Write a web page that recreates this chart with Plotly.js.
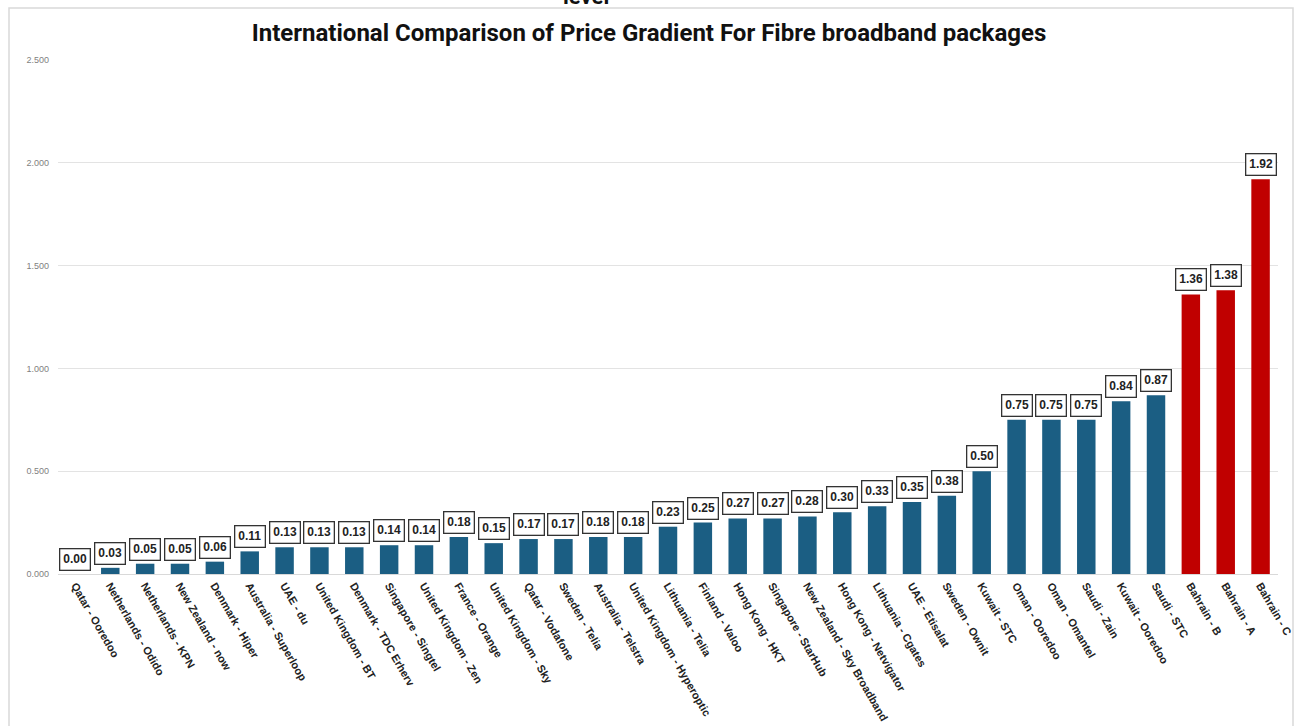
<!DOCTYPE html>
<html>
<head>
<meta charset="utf-8">
<script src="https://cdn.plot.ly/plotly-3.0.1.min.js"></script>
<style>
  html, body { margin: 0; padding: 0; background: #ffffff; }
  #chart { width: 1298px; height: 726px; }
</style>
</head>
<body>
<div id="chart"></div>
<script>
// Data
const categories = [
  "Qatar - Ooredoo", "Netherlands - Odido", "Netherlands - KPN", "New Zealand - now",
  "Denmark - Hiper", "Australia - Superloop", "UAE - du", "United Kingdom - BT",
  "Denmark - TDC Erherv", "Singapore - Singtel", "United Kingdom - Zen", "France - Orange",
  "United Kingdom - Sky", "Qatar - Vodafone", "Sweden - Telia", "Australia - Telstra",
  "United Kingdom - Hyperoptic", "Lithuania - Telia", "Finland - Valoo", "Hong Kong - HKT",
  "Singapore - StarHub", "New Zealand - Sky Broadband", "Hong Kong - Netvigator",
  "Lithuania - Cgates", "UAE - Etisalat", "Sweden - Ownit", "Kuwait - STC",
  "Oman - Ooredoo", "Oman - Omantel", "Saudi - Zain", "Kuwait - Ooredoo", "Saudi - STC",
  "Bahrain - B", "Bahrain - A", "Bahrain - C"
];
const values = [
  0.00, 0.03, 0.05, 0.05, 0.06, 0.11, 0.13, 0.13, 0.13, 0.14, 0.14, 0.18,
  0.15, 0.17, 0.17, 0.18, 0.18, 0.23, 0.25, 0.27, 0.27, 0.28, 0.30, 0.33,
  0.35, 0.38, 0.50, 0.75, 0.75, 0.75, 0.84, 0.87, 1.36, 1.38, 1.92
];
const highlighted = ["Bahrain - B", "Bahrain - A", "Bahrain - C"];
const yTickValues = [0, 0.5, 1.0, 1.5, 2.0, 2.5];

const blue = "#1b5e83";
const red = "#c00000";
const colors = categories.map(c => highlighted.includes(c) ? red : blue);

const trace = {
  type: "bar",
  x: categories,
  y: values,
  marker: { color: colors, line: { width: 0 } },
  hoverinfo: "x+y"
};

const labelAnnotations = categories.map((c, i) => ({
  x: c, y: values[i], xref: "x", yref: "y",
  text: values[i].toFixed(2),
  showarrow: false,
  yanchor: "bottom",
  yshift: 3,
  bgcolor: "#ffffff",
  bordercolor: "#333333",
  borderwidth: 1.3,
  borderpad: 3,
  font: { family: "Liberation Sans, Arial, sans-serif", size: 12, color: "#222222", weight: "bold" }
}));

const layout = {
  width: 1298, height: 726,
  margin: { l: 58, r: 20, t: 60, b: 152 },
  paper_bgcolor: "#ffffff",
  plot_bgcolor: "#ffffff",
  bargap: 0.47,
  showlegend: false,
  title: {
    text: "International Comparison of Price Gradient For Fibre broadband packages",
    x: 0.5, xanchor: "center",
    y: 1 - 33 / 726, yanchor: "middle",
    font: { family: "Roboto, Liberation Sans, sans-serif", size: 24, color: "#111111", weight: "bold" }
  },
  xaxis: {
    type: "category",
    tickangle: 60,
    tickfont: { family: "Liberation Sans, Arial, sans-serif", size: 11, color: "#222222", weight: "bold" },
    showgrid: false,
    showline: true,
    linecolor: "#d9d9d9",
    linewidth: 1,
    ticks: "",
    automargin: false
  },
  yaxis: {
    range: [0, 2.5],
    tickvals: yTickValues,
    tickformat: ".3f",
    tickfont: { family: "Liberation Sans, Arial, sans-serif", size: 9, color: "#7f7f7f" },
    showgrid: true,
    gridcolor: "#e3e3e3",
    gridwidth: 1,
    zeroline: false,
    showline: false,
    ticks: "",
    ticklabelstandoff: 8,
    automargin: false
  },
  shapes: [{
    type: "rect", xref: "paper", yref: "paper",
    x0: (9 - 58) / 1220, x1: (1293 - 58) / 1220,
    y0: (574 - 740) / 514, y1: (574 - 8) / 514,
    line: { color: "#d9d9d9", width: 1.5 },
    fillcolor: "rgba(0,0,0,0)",
    layer: "below"
  }],
  annotations: labelAnnotations.concat([{
    xref: "paper", yref: "paper",
    x: (586 - 58) / 1220, y: (574 + 4) / 514,
    xanchor: "center", yanchor: "middle",
    text: "level", showarrow: false,
    font: { family: "Roboto, Liberation Sans, sans-serif", size: 22, color: "#111111", weight: "bold" }
  }])
};

Plotly.newPlot("chart", [trace], layout, { displayModeBar: false, staticPlot: true });
</script>
</body>
</html>
